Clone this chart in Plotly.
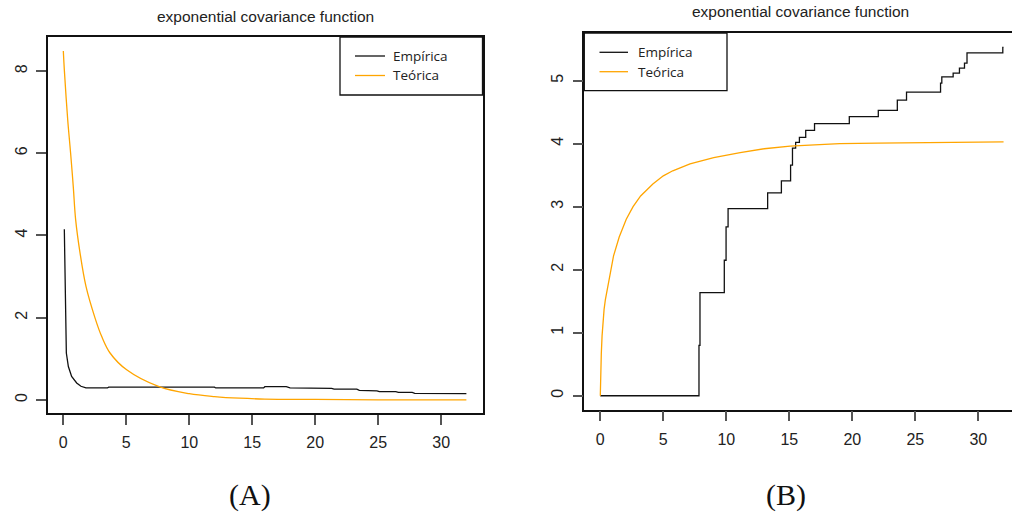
import plotly.graph_objects as go

# ---------------- data ----------------
# Panel A: covariance
a_teo_h = [0, 0.08, 0.35, 0.58, 0.79, 0.98, 1.33, 1.80, 2.52, 3.05, 3.71, 5.03, 7.6, 10.0, 12.0, 14.0, 16.0, 20.0, 25.0, 32.0]
a_teo_v = [8.49, 8.03, 6.81, 6.0, 5.19, 4.38, 3.57, 2.76, 1.99, 1.54, 1.14, 0.73, 0.32, 0.15, 0.08, 0.04, 0.02, 0.01, 0.0, 0.0]

a_emp_h = [0.08, 0.10, 0.13, 0.19, 0.24, 0.40, 0.66, 1.06, 1.40, 1.80, 3.50, 3.60, 12.0, 12.1, 15.9, 16.0, 17.7, 18.0, 21.3, 21.5, 23.3, 23.5, 24.9, 25.1, 26.4, 26.6, 27.7, 27.9, 29.4, 29.6, 32.0]
a_emp_v = [4.15, 3.60, 3.16, 1.87, 1.14, 0.81, 0.57, 0.41, 0.33, 0.29, 0.29, 0.31, 0.31, 0.29, 0.29, 0.32, 0.32, 0.29, 0.28, 0.26, 0.26, 0.23, 0.22, 0.20, 0.20, 0.18, 0.18, 0.16, 0.16, 0.15, 0.15]

# Panel B: semivariogram
b_teo_h = [0, 0.01, 0.03, 0.08, 0.14, 0.21, 0.3, 0.4, 0.61, 0.8, 1.05, 1.5, 2.06, 2.6, 3.2, 4.17, 5.0, 5.75, 7.12, 9.0, 11.1, 13.0, 15.06, 17.0, 19.0, 22.0, 25.2, 32.0]
b_teo_v = [0, 0.15, 0.30, 0.67, 0.95, 1.20, 1.37, 1.52, 1.76, 1.98, 2.22, 2.52, 2.80, 3.00, 3.17, 3.36, 3.49, 3.57, 3.68, 3.78, 3.86, 3.92, 3.96, 3.98, 4.0, 4.01, 4.02, 4.03]

b_emp_h = [0, 7.83, 7.91, 9.84, 9.98, 10.14, 13.28, 14.37, 15.1, 15.25, 15.5, 15.8, 16.3, 17.0, 19.76, 22.06, 23.57, 24.3, 27.0, 27.1, 28.0, 28.5, 28.9, 29.1, 31.94, 32.0]
b_emp_v = [0, 0.80, 1.635, 2.15, 2.68, 2.97, 3.22, 3.41, 3.66, 3.93, 4.02, 4.10, 4.21, 4.32, 4.43, 4.53, 4.69, 4.82, 4.96, 5.06, 5.12, 5.20, 5.28, 5.44, 5.53, 5.53]

x_ticks = [0, 5, 10, 15, 20, 25, 30]
a_y_ticks = [0, 2, 4, 6, 8]
b_y_ticks = [0, 1, 2, 3, 4, 5]

title_text = "exponential covariance function"
legend_names = ["Empírica", "Teórica"]
captions = ["(A)", "(B)"]

# ---------------- layout helpers ----------------
W, H = 1012, 517
def px(x):
    return x / W
def py(y):
    return 1 - y / H

BLACK = "#111111"
ORANGE = "#FFA500"
TICKFONT = dict(family="Liberation Sans, Arial, sans-serif", size=16, color="#222222")

fig = go.Figure()
fig.add_trace(go.Scatter(x=a_emp_h, y=a_emp_v, mode="lines", line=dict(color=BLACK, width=1.3),
                         xaxis="x", yaxis="y", showlegend=False, name=legend_names[0]))
fig.add_trace(go.Scatter(x=a_teo_h, y=a_teo_v, mode="lines", line=dict(color=ORANGE, width=1.3, shape="spline"),
                         xaxis="x", yaxis="y", showlegend=False, name=legend_names[1]))
fig.add_trace(go.Scatter(x=b_emp_h, y=b_emp_v, mode="lines", line=dict(color=BLACK, width=1.3, shape="hv"),
                         xaxis="x2", yaxis="y2", showlegend=False, name=legend_names[0]))
fig.add_trace(go.Scatter(x=b_teo_h, y=b_teo_v, mode="lines", line=dict(color=ORANGE, width=1.3),
                         xaxis="x2", yaxis="y2", showlegend=False, name=legend_names[1]))

common_x = dict(tickvals=x_ticks, ticks="outside", ticklen=10, tickwidth=1.5, tickcolor="#555555",
                showline=True, linecolor=BLACK, linewidth=1.5, mirror=True, showgrid=False,
                zeroline=False, tickfont=TICKFONT, ticklabelstandoff=4)
common_y = dict(ticks="outside", ticklen=10, tickwidth=1.5, tickcolor="#555555", tickangle=-90,
                showline=True, linecolor=BLACK, linewidth=1.5, showgrid=False,
                zeroline=False, tickfont=TICKFONT, ticklabelstandoff=3)

fig.update_layout(
    width=W, height=H, margin=dict(l=0, r=0, t=0, b=0),
    plot_bgcolor="white", paper_bgcolor="white",
    xaxis=dict(domain=[px(47.7), px(482.5)], range=[-1.24, 33.28], anchor="y", **common_x),
    yaxis=dict(domain=[py(413), py(37)], range=[-0.32, 8.83], anchor="x", tickvals=a_y_ticks, mirror=True, **common_y),
    xaxis2=dict(domain=[px(584.3), 1.0], range=[-1.27, 32.67], anchor="y2", **common_x),
    yaxis2=dict(domain=[py(409.6), py(32.8)], range=[-0.22, 5.76], anchor="x2", tickvals=b_y_ticks, mirror=False, **common_y),
)

shapes = []
annotations = []

TITLEFONT = dict(family="Liberation Sans, Arial, sans-serif", size=15.5, color="#222222")
annotations.append(dict(text=title_text, x=px(265), y=py(16), xref="paper", yref="paper", showarrow=False,
                        xanchor="center", yanchor="middle", font=TITLEFONT))
annotations.append(dict(text=title_text, x=px(800), y=py(11), xref="paper", yref="paper", showarrow=False,
                        xanchor="center", yanchor="middle", font=TITLEFONT))

CAPFONT = dict(family="Liberation Serif, serif", size=30, color="#111111")
annotations.append(dict(text=captions[0], x=px(250), y=py(495), xref="paper", yref="paper", showarrow=False,
                        xanchor="center", yanchor="middle", font=CAPFONT))
annotations.append(dict(text=captions[1], x=px(786), y=py(495), xref="paper", yref="paper", showarrow=False,
                        xanchor="center", yanchor="middle", font=CAPFONT))

# manual legends (R-style boxes)
legend_boxes = [
    dict(x0=340, x1=482.5, y0=37, y1=95, lx0=355, lx1=385, tx=391, ys=[56, 75.5]),
    dict(x0=584.3, x1=727, y0=33, y1=90.7, lx0=599.5, lx1=628, tx=636, ys=[52.3, 71.7]),
]
for lb in legend_boxes:
    shapes.append(dict(type="rect", xref="paper", yref="paper", x0=px(lb["x0"]), x1=px(lb["x1"]),
                       y0=py(lb["y1"]), y1=py(lb["y0"]), line=dict(color=BLACK, width=1.3),
                       fillcolor="white", layer="above"))
    for name, col, yy in zip(legend_names, [BLACK, ORANGE], lb["ys"]):
        shapes.append(dict(type="line", xref="paper", yref="paper", x0=px(lb["lx0"]), x1=px(lb["lx1"]),
                           y0=py(yy), y1=py(yy), line=dict(color=col, width=1.3), layer="above"))
        annotations.append(dict(text=name, x=px(lb["tx"]), y=py(yy), xref="paper", yref="paper",
                                showarrow=False, xanchor="left", yanchor="middle",
                                font=dict(family="Open Sans, sans-serif", size=13.5, color="#222222")))

fig.update_layout(shapes=shapes, annotations=annotations)
fig.write_html("out.html", config={"displayModeBar": False},
               post_script="document.body.style.margin='0px';document.body.style.overflow='hidden';")
